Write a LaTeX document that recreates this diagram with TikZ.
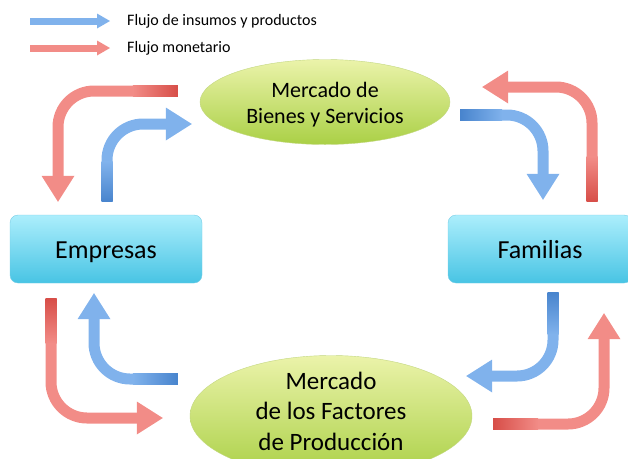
\documentclass[tikz,border=0pt]{standalone}
\usepackage{fontspec}
\setmainfont{Carlito}
\usetikzlibrary{shapes.geometric,arrows.meta}
\definecolor{azulflujo}{RGB}{128,178,236}
\definecolor{azuloscuro}{RGB}{72,132,205}
\definecolor{rojoflujo}{RGB}{242,140,135}
\definecolor{rojooscuro}{RGB}{215,78,72}
\definecolor{cajaarriba}{RGB}{172,238,252}
\definecolor{cajaabajo}{RGB}{72,196,228}
\definecolor{cajaborde}{RGB}{120,205,230}
\definecolor{elipsearriba}{RGB}{235,243,170}
\definecolor{elipseabajo}{RGB}{170,208,70}
\definecolor{elipseborde}{RGB}{195,215,130}
\tikzset{
    hv/.style={to path={-| (\tikztotarget)}},
    vh/.style={to path={|- (\tikztotarget)}},
    azul/.style={draw=azulflujo},
    rojo/.style={draw=rojoflujo},
    caja/.style={rectangle, rounded corners=8pt, minimum width=#1, minimum height=68pt,
        top color=cajaarriba, bottom color=cajaabajo, draw=cajaborde,
        font=\fontsize{26}{30}\selectfont, text height=19.5pt, text depth=0pt},
    mercado/.style={ellipse, top color=elipsearriba, bottom color=elipseabajo, draw=elipseborde},
    leyenda/.style={line width=7pt, -{Triangle[width=15pt,length=13pt,line width=0pt]}}
}
\begin{document}
\begin{tikzpicture}[x=1pt,y=-1pt]
    \clip (0,0) rectangle (628,458);
    \begin{scope}
        \tikzstyle{every node}=[text=black, align=center, inner sep=0pt]
        \node[mercado, minimum width=250pt, minimum height=85pt,
            font=\fontsize{22}{26}\selectfont] (bienes) at (325,102)
            {\raisebox{-8.5pt}[0pt][0pt]{\begin{tabular}{@{}c@{}}Mercado de\\Bienes y Servicios\end{tabular}}};
        \node[mercado, minimum width=282pt, minimum height=121pt,
            font=\fontsize{25}{30.5}\selectfont] (factores) at (331,416)
            {\raisebox{-4pt}[0pt][0pt]{\begin{tabular}{@{}c@{}}Mercado\\de los Factores\\de Producción\end{tabular}}};
        \node[caja=192pt] (empresas) at (106,249) {Empresas};
        \node[caja=184pt] (familias) at (540,249) {Familias};
        \node[anchor=west, font=\fontsize{16}{19}\selectfont] (leg1) at (127,21) {Flujo de insumos y productos};
        \node[anchor=west, font=\fontsize{16}{19}\selectfont] (leg2) at (127,48) {Flujo monetario};
    \end{scope}
    % extremos de las flechas
    \coordinate (r1a) at ([xshift=-22pt,yshift=11pt]bienes.west);
    \coordinate (r1b) at ([xshift=-48pt,yshift=13pt]empresas.north);
    \coordinate (b1a) at ([xshift=1pt,yshift=13pt]empresas.north);
    \coordinate (b1b) at ([xshift=-8pt,yshift=-22pt]bienes.west);
    \coordinate (b2a) at ([xshift=10pt,yshift=-13pt]bienes.east);
    \coordinate (b2b) at ([xshift=3pt,yshift=15pt]familias.north);
    \coordinate (r2a) at ([xshift=52pt,yshift=13pt]familias.north);
    \coordinate (r2b) at ([xshift=32pt,yshift=15pt]bienes.east);
    \coordinate (r3a) at ([xshift=-55pt,yshift=-15pt]empresas.south);
    \coordinate (r3b) at ([xshift=-27pt,yshift=-2pt]factores.west);
    \coordinate (b3a) at ([xshift=-12pt,yshift=37pt]factores.west);
    \coordinate (b3b) at ([xshift=-12pt,yshift=-10pt]empresas.south);
    \coordinate (b4a) at ([xshift=13pt,yshift=-9pt]familias.south);
    \coordinate (b4b) at ([xshift=-6pt,yshift=40pt]factores.east);
    \coordinate (r4a) at ([xshift=21pt,yshift=-8pt]factores.east);
    \coordinate (r4b) at ([xshift=64pt,yshift=-30pt]familias.south);
    \begin{scope}
        \tikzstyle{every edge}=[draw, line width=11pt, rounded corners=36pt,
            -{Triangle[width=33pt,length=26pt,line width=0pt]}]
        \path
        (r1a) edge[hv, rojo] (r1b)
        (b1a) edge[vh, azul] (b1b)
        (b2a) edge[hv, azul] (b2b)
        (r2a) edge[vh, rojo] (r2b)
        (r3a) edge[vh, rojo] (r3b)
        (b3a) edge[hv, azul] (b3b)
        (b4a) edge[vh, azul] (b4b)
        (r4a) edge[hv, rojo] (r4b);
    \end{scope}
    % colas oscuras
    \shade[left color=rojoflujo, right color=rojooscuro] ([xshift=-45pt,yshift=-5.5pt]r1a) rectangle ([yshift=5.5pt]r1a);
    \shade[left color=azulflujo, right color=azuloscuro] ([xshift=-45pt,yshift=-5.5pt]b3a) rectangle ([yshift=5.5pt]b3a);
    \shade[left color=azuloscuro, right color=azulflujo] ([yshift=-5.5pt]b2a) rectangle ([xshift=42pt,yshift=5.5pt]b2a);
    \shade[left color=rojooscuro, right color=rojoflujo] ([yshift=-5.5pt]r4a) rectangle ([xshift=45pt,yshift=5.5pt]r4a);
    \shade[top color=azulflujo, bottom color=azuloscuro] ([xshift=-5.5pt]b1a) rectangle ([xshift=5.5pt,yshift=40pt]b1a);
    \shade[top color=rojoflujo, bottom color=rojooscuro] ([xshift=-5.5pt]r2a) rectangle ([xshift=5.5pt,yshift=45pt]r2a);
    \shade[top color=rojooscuro, bottom color=rojoflujo] ([xshift=-5.5pt]r3a) rectangle ([xshift=5.5pt,yshift=-45pt]r3a);
    \shade[top color=azuloscuro, bottom color=azulflujo] ([xshift=-5.5pt]b4a) rectangle ([xshift=5.5pt,yshift=-42pt]b4a);
    % leyenda
    \draw[leyenda, azulflujo] ([xshift=-97pt]leg1.west) -- ([xshift=-17pt]leg1.west);
    \draw[leyenda, rojoflujo] ([xshift=-97pt]leg2.west) -- ([xshift=-17pt]leg2.west);
\end{tikzpicture}
\end{document}
